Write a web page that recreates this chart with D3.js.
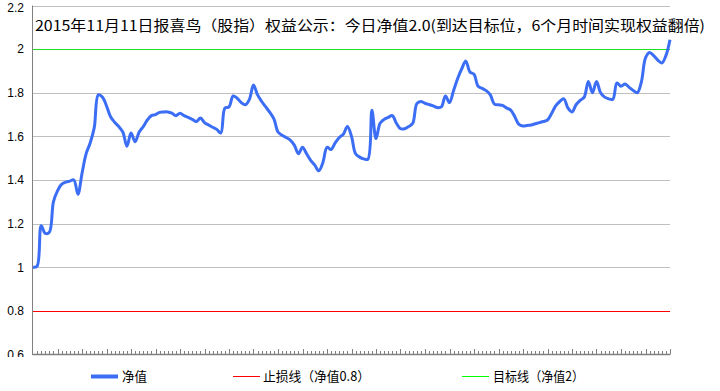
<!DOCTYPE html>
<html>
<head>
<meta charset="utf-8">
<script src="https://cdn.jsdelivr.net/npm/d3@7"></script>
<style>
  html, body { margin: 0; padding: 0; background: #fff; }
  svg { display: block; font-family: "Noto Sans CJK SC", "DejaVu Sans", sans-serif; }
</style>
</head>
<body>
<script>
// 净值, one value per trading day
const netValue = [
  1.00, 1.005, 1.19, 1.155, 1.16, 1.30, 1.35, 1.38, 1.39, 1.395,
  1.40, 1.335, 1.43, 1.52, 1.57, 1.64, 1.79, 1.78, 1.74, 1.69,
  1.665, 1.645, 1.62, 1.555, 1.615, 1.575, 1.62, 1.645, 1.675, 1.695,
  1.70, 1.71, 1.712, 1.712, 1.707, 1.695, 1.706, 1.695, 1.687, 1.678,
  1.668, 1.684, 1.663, 1.652, 1.642, 1.632, 1.615, 1.73, 1.735, 1.785,
  1.775, 1.755, 1.745, 1.77, 1.835, 1.79, 1.76, 1.735, 1.71, 1.68,
  1.62, 1.605, 1.595, 1.583, 1.56, 1.52, 1.55, 1.52, 1.49, 1.468,
  1.442, 1.48, 1.55, 1.54, 1.57, 1.595, 1.61, 1.645, 1.60, 1.52,
  1.505, 1.497, 1.495, 1.72, 1.59, 1.66, 1.678, 1.687, 1.695, 1.66,
  1.635, 1.635, 1.645, 1.66, 1.75, 1.76, 1.752, 1.746, 1.74, 1.732,
  1.735, 1.785, 1.755, 1.81, 1.865, 1.91, 1.945, 1.895, 1.885, 1.83,
  1.82, 1.81, 1.79, 1.748, 1.745, 1.742, 1.73, 1.72, 1.69, 1.655,
  1.648, 1.65, 1.652, 1.658, 1.663, 1.668, 1.675, 1.705, 1.74, 1.76,
  1.772, 1.73, 1.712, 1.745, 1.765, 1.78, 1.852, 1.80, 1.852, 1.80,
  1.78, 1.772, 1.77, 1.845, 1.83, 1.84, 1.825, 1.81, 1.80, 1.85,
  1.96, 1.985, 1.97, 1.95, 1.936, 1.97, 2.043
]
const stopLoss = 0.8
const target = 2
const yTicks = [0.6, 0.8, 1, 1.2, 1.4, 1.6, 1.8, 2, 2.2]
const yTickLabels = ["0.6", "0.8", "1", "1.2", "1.4", "1.6", "1.8", "2", "2.2"]
const legendLabels = ["净值", "止损线（净值0.8）", "目标线（净值2）"]
const titleText = "2015年11月11日报喜鸟（股指）权益公示：今日净值2.0(到达目标位，6个月时间实现权益翻倍)"

const width = 720
const height = 391
const blue = "#3b6ef5"

const svg = d3.select("body").append("svg")
  .attr("width", width)
  .attr("height", height)

const x = d3.scaleLinear().domain([0, netValue.length - 1]).range([33, 670])
const y = d3.scaleLinear().domain([0.6, 2.2]).range([354.5, 5.5])

// clip so the bottom label is cut like in the original
svg.append("clipPath").attr("id", "lab-clip")
  .append("rect").attr("x", 0).attr("y", 330).attr("width", 32).attr("height", 27)

// grid lines (skip the ones covered by the reference lines and the axis)
svg.append("g")
  .selectAll("line")
  .data(yTicks.filter(d => d !== 0.6 && d !== stopLoss && d !== target))
  .join("line")
  .attr("x1", x(0)).attr("x2", x(netValue.length - 1))
  .attr("y1", d => Math.round(y(d)) + 0.5)
  .attr("y2", d => Math.round(y(d)) + 0.5)
  .attr("stroke", "#bfbfbf")
  .attr("stroke-width", 1)

// y labels
svg.append("g")
  .selectAll("text")
  .data(yTicks)
  .join("text")
  .attr("x", 24)
  .attr("y", d => Math.max(y(d) + 4.3, 11.5))
  .attr("text-anchor", "end")
  .attr("font-family", "'Liberation Sans', Arial, sans-serif")
  .attr("font-size", 12)
  .attr("fill", "#000")
  .attr("clip-path", d => d === 0.6 ? "url(#lab-clip)" : null)
  .text((d, i) => yTickLabels[i])

// stop-loss and target lines
svg.append("line")
  .attr("x1", x(0)).attr("x2", x(netValue.length - 1))
  .attr("y1", Math.round(y(stopLoss)) + 0.5).attr("y2", Math.round(y(stopLoss)) + 0.5)
  .attr("stroke", "#ff0000").attr("stroke-width", 1)
svg.append("line")
  .attr("x1", x(0)).attr("x2", x(netValue.length - 1))
  .attr("y1", Math.round(y(target)) + 0.5).attr("y2", Math.round(y(target)) + 0.5)
  .attr("stroke", "#22dd22").attr("stroke-width", 1.2)

// axes
svg.append("line")
  .attr("x1", 32.5).attr("x2", 32.5)
  .attr("y1", y(2.2)).attr("y2", 355)
  .attr("stroke", "#808080")
svg.append("line")
  .attr("x1", 32.5).attr("x2", x(netValue.length - 1) + 0.5)
  .attr("y1", 354.5).attr("y2", 354.5)
  .attr("stroke", "#808080").attr("stroke-width", 1.5)

// x ticks, one per day, longer every 6th
svg.append("g")
  .selectAll("line")
  .data(d3.range(1, netValue.length))
  .join("line")
  .attr("x1", d => Math.round(x(d)) + 0.5)
  .attr("x2", d => Math.round(x(d)) + 0.5)
  .attr("y1", 354)
  .attr("y2", d => d % 6 === 0 ? 349 : 351)
  .attr("stroke", "#808080")

// net value line
const line = d3.line()
  .x((d, i) => x(i))
  .y(d => y(d))
  .curve(d3.curveCatmullRom.alpha(0.5))

svg.append("path")
  .datum(netValue)
  .attr("d", line)
  .attr("fill", "none")
  .attr("stroke", blue)
  .attr("stroke-width", 3)
  .attr("stroke-linejoin", "round")

// title
svg.append("text")
  .attr("x", 35)
  .attr("y", 31)
  .attr("font-size", 14.5)
  .attr("textLength", 670)
  .attr("lengthAdjust", "spacingAndGlyphs")
  .attr("fill", "#000")
  .text(titleText)

// legend
const legendItems = [
  { x: 91, color: blue, w: 4, textX: 122, len: 25 },
  { x: 233, color: "#ff0000", w: 1, textX: 263, len: 107 },
  { x: 462, color: "#00ff00", w: 1, textX: 493, len: 91 }
]
const legend = svg.append("g").attr("id", "legend")
legend.selectAll("line")
  .data(legendItems)
  .join("line")
  .attr("x1", d => d.x).attr("x2", d => d.x + 27)
  .attr("y1", 376.5).attr("y2", 376.5)
  .attr("stroke", d => d.color)
  .attr("stroke-width", d => d.w)
legend.selectAll("text")
  .data(legendItems)
  .join("text")
  .attr("x", d => d.textX)
  .attr("y", 381)
  .attr("font-size", 13)
  .attr("textLength", d => d.len)
  .attr("lengthAdjust", "spacingAndGlyphs")
  .attr("fill", "#000")
  .text((d, i) => legendLabels[i])
</script>
</body>
</html>
